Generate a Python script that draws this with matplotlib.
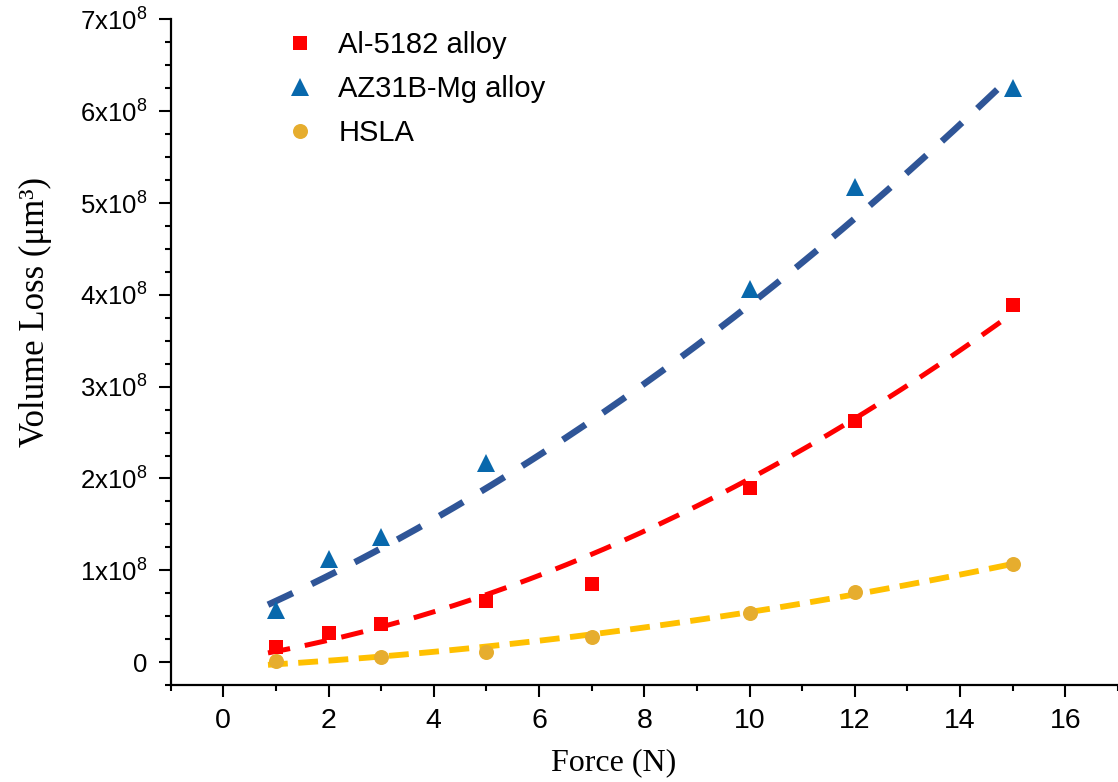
import numpy as np
import matplotlib
matplotlib.use("Agg")
import matplotlib.pyplot as plt
from matplotlib.ticker import MultipleLocator, FuncFormatter

# data (volume loss in units of 1e8 um^3)
force_al = [1, 2, 3, 5, 7, 10, 12, 15]
loss_al = [0.16, 0.32, 0.41, 0.66, 0.85, 1.895, 2.63, 3.89]

force_mg = [1, 2, 3, 5, 10, 12, 15]
loss_mg = [0.57, 1.125, 1.36, 2.17, 4.06, 5.17, 6.25]

force_hsla = [1, 3, 5, 7, 10, 12, 15]
loss_hsla = [0.01, 0.06, 0.11, 0.27, 0.53, 0.76, 1.07]

# quadratic trend lines as drawn in the reference (c0, c1, c2), units of 1e8
fit_al = [0.016, 0.0895, 0.01085]
fit_mg = [0.408, 0.2463, 0.0102]
fit_hsla = [-0.058, 0.0306, 0.00297]
fit_range = [0.85, 14.95]

labels = ["Al-5182 alloy", "AZ31B-Mg alloy", "HSLA"]

plt.rcParams["font.family"] = ["Liberation Sans", "DejaVu Sans"]
plt.rcParams["mathtext.fontset"] = "custom"
plt.rcParams["mathtext.rm"] = "Liberation Sans"
plt.rcParams["mathtext.default"] = "regular"

fig = plt.figure(figsize=(11.18, 7.82), dpi=100)
ax = fig.add_axes([0.1526, 0.124, 0.8474, 0.8512])

series = [
	(force_al, loss_al, fit_al, "#ff0000", "s", 9.6, "#ff0000", 3.6, (4.5, 3.0)),
	(force_mg, loss_mg, fit_mg, "#0868ac", "^", 12.5, "#2f5597", 4.7, (4.2, 3.2)),
	(force_hsla, loss_hsla, fit_hsla, "#e6ad2e", "o", 10.8, "#ffc000", 4.2, (3.4, 1.8)),
]

handles = []
for (xs, ys, fit, mcol, mk, ms, lcol, lw, dash), lab in zip(series, labels):
	xs = np.asarray(xs, dtype=float)
	ys = np.asarray(ys, dtype=float) * 1e8
	xf = np.linspace(fit_range[0], fit_range[1], 200)
	yf = np.polynomial.polynomial.polyval(xf, fit) * 1e8
	ax.plot(xf, yf, color=lcol, linewidth=lw, dashes=dash,
		solid_capstyle="butt", dash_capstyle="butt", zorder=2)
	h, = ax.plot(xs, ys, linestyle="none", marker=mk, markersize=ms,
		color=mcol, markeredgewidth=0, zorder=3, label=lab)
	handles.append(h)

ax.set_xlim(-1, 17)
ax.set_ylim(-0.25e8, 7e8)
ax.xaxis.set_major_locator(MultipleLocator(2))
ax.xaxis.set_minor_locator(MultipleLocator(1))
ax.yaxis.set_major_locator(MultipleLocator(1e8))
ax.yaxis.set_minor_locator(MultipleLocator(0.25e8))


def yfmt(v, pos):
	n = int(round(v / 1e8))
	if n == 0:
		return "0"
	return f"{n}x10$^{{8}}$"


ax.yaxis.set_major_formatter(FuncFormatter(yfmt))

for side in ["top", "right"]:
	ax.spines[side].set_visible(False)
for side in ["left", "bottom"]:
	ax.spines[side].set_linewidth(1.6)

ax.tick_params(which="major", direction="out", length=8.5, width=1.5)
ax.tick_params(which="minor", direction="out", length=4.5, width=1.5)
ax.tick_params(axis="x", which="major", labelsize=20.5, pad=8)
ax.tick_params(axis="y", which="major", labelsize=18.5, pad=8)

ax.set_xlabel("Force (N)", family="Liberation Serif", fontsize=23)
ax.set_ylabel("Volume Loss (μm³)", family="Liberation Serif", fontsize=25)
ax.xaxis.label.set_va("center")
ax.yaxis.label.set_va("center")
ax.xaxis.set_label_coords(0.4675, -0.117)
ax.yaxis.set_label_coords(-0.143, 0.56)

ax.legend(handles=handles, loc="upper left", bbox_to_anchor=(0.1, 1.013),
	frameon=False, fontsize=21, handlelength=1.0, handletextpad=0.8,
	labelspacing=0.55, borderaxespad=0.3)

fig.savefig("out.png", dpi=100)
plt.close(fig)
